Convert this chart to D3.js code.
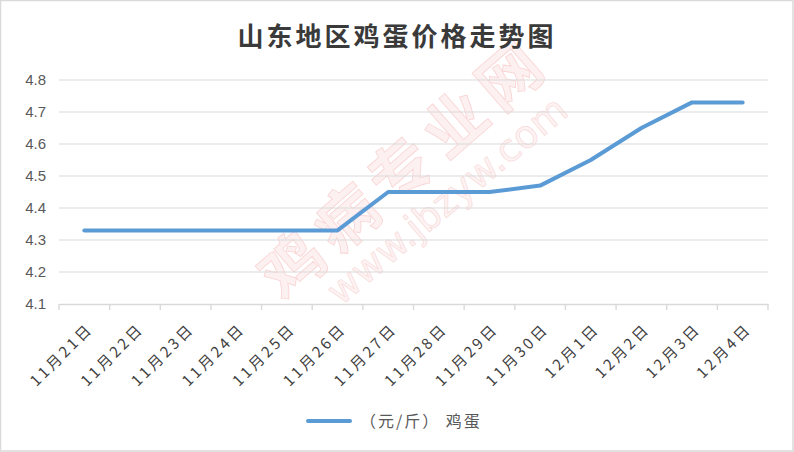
<!DOCTYPE html>
<html><head><meta charset="utf-8">
<script src="https://cdn.jsdelivr.net/npm/d3@7"></script>
<style>body{margin:0;background:#fff}svg{display:block}</style>
</head><body>
<svg id="c" width="794" height="452"></svg>
<script>
const categories = ["11月21日","11月22日","11月23日","11月24日","11月25日","11月26日","11月27日","11月28日","11月29日","11月30日","12月1日","12月2日","12月3日","12月4日"];
const eggPrice = [4.33,4.33,4.33,4.33,4.33,4.33,4.45,4.45,4.45,4.47,4.55,4.65,4.73,4.73];
const yTicks = [4.1,4.2,4.3,4.4,4.5,4.6,4.7,4.8];
const seriesName = "（元/斤） 鸡蛋";
const title = "山东地区鸡蛋价格走势图";

(function(){
const svg = d3.select("#c");
const W = 794, H = 452;
const pl = 59, pr = 768, pt = 80, pb = 304;
const txt = "#595959", grid = "#d9d9d9";
const font = "'Noto Sans CJK SC','Noto Sans',sans-serif";

svg.append("rect").attr("x",0.5).attr("y",0.5).attr("width",W-1.5).attr("height",H-1.5)
  .attr("fill","#fff").attr("stroke","#d9d9d9").attr("stroke-width",1.5);

// faint watermark
const wm1 = svg.append("g").attr("transform","translate(405,168) rotate(-41)");
wm1.append("text").attr("text-anchor","middle").attr("dy","0.35em").attr("font-family",font).attr("font-weight","bold")
  .attr("font-size",62).attr("letter-spacing",10).attr("fill","#fdf0f0").attr("stroke","#f9d4d4").attr("stroke-width",0.8).text("鸡病专业网");
const wm2 = svg.append("g").attr("transform","translate(447,200) rotate(-40)");
wm2.append("text").attr("text-anchor","middle").attr("dy","0.35em").attr("font-family","'DejaVu Sans',sans-serif")
  .attr("font-size",38).attr("fill","#fdf3f3").attr("stroke","#f9dada").attr("stroke-width",0.7).text("www.jbzyw.com");

const x = d3.scaleBand().domain(categories).range([pl,pr]);
const y = d3.scaleLinear().domain([4.1,4.8]).range([pb,pt]);

svg.append("g").selectAll("line").data(yTicks.slice(1)).join("line")
  .attr("x1",pl).attr("x2",pr).attr("y1",d=>y(d)).attr("y2",d=>y(d))
  .attr("stroke",grid).attr("stroke-width",1.2);

svg.append("g").selectAll("text").data(yTicks).join("text")
  .attr("x",46).attr("y",d=>y(d)).attr("dy","0.35em").attr("text-anchor","end")
  .attr("font-family","'Liberation Sans','DejaVu Sans',sans-serif").attr("font-size",15).attr("fill",txt)
  .text(d=>d.toFixed(1));

const xAxis = d3.axisBottom(x).tickSize(0).tickFormat("");
const gx = svg.append("g").attr("transform",`translate(0,${pb})`).call(xAxis);
gx.select(".domain").attr("stroke",grid).attr("stroke-width",1.4);
const bounds = categories.map(c=>x(c)).concat([pr]);
svg.append("g").selectAll("line").data(bounds).join("line")
  .attr("x1",d=>d).attr("x2",d=>d).attr("y1",pb).attr("y2",pb+6)
  .attr("stroke",grid).attr("stroke-width",1.4);

svg.append("g").selectAll("text").data(categories).join("text")
  .attr("transform",d=>`translate(${x(d)+x.bandwidth()/2+6},${pb+22}) rotate(-45)`)
  .attr("text-anchor","end").attr("font-family",font).attr("font-size",15).attr("letter-spacing",3)
  .attr("fill","#404040")
  .attr("dy","0.35em")
  .text(d=>d);

const line = d3.line().x((d,i)=>x(categories[i])+x.bandwidth()/2).y(d=>y(d));
svg.append("path").datum(eggPrice).attr("d",line).attr("fill","none")
  .attr("stroke","#5b9bd5").attr("stroke-width",4).attr("stroke-linejoin","round").attr("stroke-linecap","round");

svg.append("text").attr("x",397).attr("y",46).attr("text-anchor","middle")
  .attr("font-family",font).attr("font-weight","bold").attr("font-size",26).attr("letter-spacing",3)
  .attr("fill","#3a3a3a").text(title);

svg.append("line").attr("x1",308).attr("x2",350).attr("y1",421).attr("y2",421)
  .attr("stroke","#5b9bd5").attr("stroke-width",4).attr("stroke-linecap","round");
svg.append("text").attr("x",360).attr("y",421).attr("dy","0.35em")
  .attr("font-family",font).attr("font-size",16).attr("letter-spacing",2).attr("fill",txt).text(seriesName);
})();
</script>
</body></html>
